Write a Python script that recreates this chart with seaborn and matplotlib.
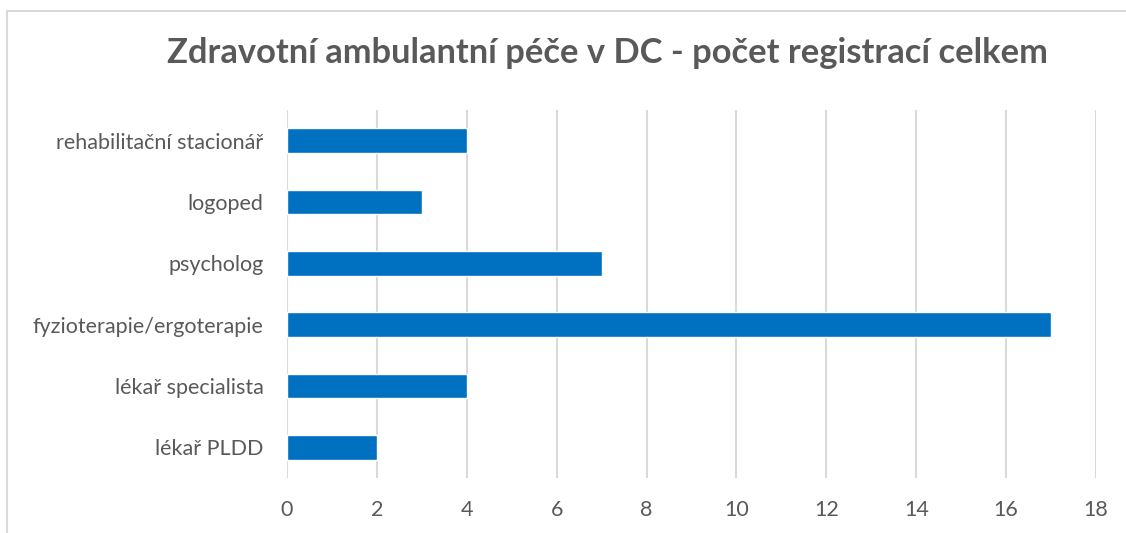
import pandas as pd
import matplotlib.pyplot as plt
import seaborn as sns
from matplotlib.lines import Line2D

kategorie = ['rehabilitační stacionář', 'logoped', 'psycholog',
             'fyzioterapie/ergoterapie', 'lékař specialista', 'lékař PLDD']
pocet = [4, 3, 7, 17, 4, 2]
x_ticks = [0, 2, 4, 6, 8, 10, 12, 14, 16, 18]

df = pd.DataFrame({'Kategorie': kategorie, 'Počet': pocet})

sns.set_style('white')
plt.rcParams['font.family'] = ['Lato', 'DejaVu Sans']

fig = plt.figure(figsize=(11.26, 5.33), dpi=100)
ax = fig.add_axes([0.2549, 0.1032, 0.7185, 0.6904])

sns.barplot(data=df, y='Kategorie', x='Počet', orient='h', color='#0070C0',
            width=0.4, saturation=1, ax=ax, zorder=3)

ax.set_xlim(0, 18)
ax.set_xticks(x_ticks)
ax.set_ylim(5.5, -0.5)
ax.grid(axis='x', color='#d9d9d9', linewidth=1.5, zorder=0)
ax.set_axisbelow(True)
for s in ax.spines.values():
    s.set_visible(False)
ax.tick_params(axis='both', length=0, labelsize=15.5, labelcolor='#595959')
ax.tick_params(axis='x', pad=16)
ax.tick_params(axis='y', pad=17)
ax.set_xlabel('')
ax.set_ylabel('')

fig.text(0.5397, 0.900, 'Zdravotní ambulantní péče v DC - počet registrací celkem',
         ha='center', va='center', fontsize=24.8, fontweight='bold', color='#595959')

# chart frame (cut off on the right and bottom in the original)
x0 = 7 / 1126
y0 = 1 - 11 / 533
fig.add_artist(Line2D([x0, 1.0], [y0, y0], transform=fig.transFigure,
                      color='#d9d9d9', linewidth=1.5))
fig.add_artist(Line2D([x0, x0], [0.0, y0], transform=fig.transFigure,
                      color='#d9d9d9', linewidth=1.5))

fig.savefig('out.png', dpi=100)
